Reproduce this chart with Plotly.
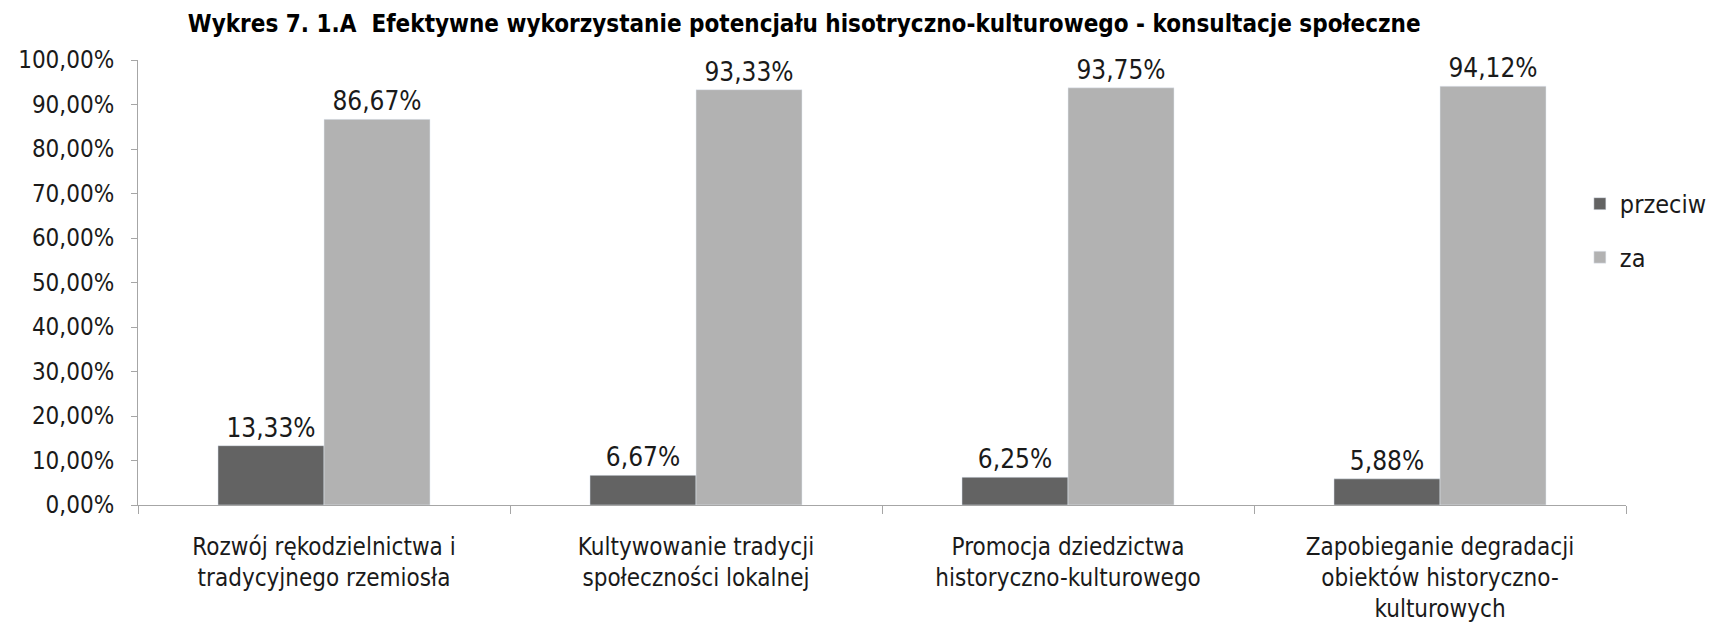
import plotly.graph_objects as go

# data
categories = [
    "Rozwój rękodzielnictwa i<br>tradycyjnego rzemiosła",
    "Kultywowanie tradycji<br>społeczności lokalnej",
    "Promocja dziedzictwa<br>historyczno-kulturowego",
    "Zapobieganie degradacji<br>obiektów historyczno-<br>kulturowych",
]
przeciw = [0.1333, 0.0667, 0.0625, 0.0588]
za = [0.8667, 0.9333, 0.9375, 0.9412]
y_ticks = [0, 0.1, 0.2, 0.3, 0.4, 0.5, 0.6, 0.7, 0.8, 0.9, 1.0]

FONT = "DejaVu Sans Condensed, Liberation Sans Narrow, sans-serif"

fig = go.Figure()
fig.add_trace(go.Bar(
    x=categories, y=przeciw, name="przeciw",
    marker_color="#636363", legendgroup="a",
    texttemplate="%{y:.2%}", textposition="outside",
    textfont=dict(size=26, color="#1a1a1a"),
    cliponaxis=False,
))
fig.add_trace(go.Bar(
    x=categories, y=za, name="za",
    marker_color="#b2b2b2", legendgroup="b",
    texttemplate="%{y:.2%}", textposition="outside",
    textfont=dict(size=26, color="#1a1a1a"),
    cliponaxis=False,
))

fig.update_layout(
    width=1716, height=630,
    separators=", ",
    barmode="group",
    bargap=0.43,
    bargroupgap=0,
    plot_bgcolor="white",
    paper_bgcolor="white",
    font=dict(family=FONT, size=24, color="#1a1a1a"),
    title=dict(
        text="<b>Wykres 7. 1.A\u00a0 Efektywne wykorzystanie potencjału hisotryczno-kulturowego - konsultacje społeczne</b>",
        x=0.464, xanchor="center", y=0.975, yanchor="middle",
        font=dict(size=24, family=FONT, color="#000000"),
    ),
    margin=dict(l=130, r=96, t=52, b=133),
    showlegend=True,
    legend=dict(
        x=0.969, xanchor="left", y=0.617, yanchor="middle",
        bgcolor="rgba(255,255,255,0)",
        font=dict(size=25),
        traceorder="grouped",
        tracegroupgap=18,
        itemwidth=30,
    ),
)

fig.update_yaxes(
    range=[0, 1.0],
    tickvals=y_ticks,
    tickformat=".2%",
    showgrid=False,
    showline=True, linecolor="#a6a6a6", linewidth=1,
    ticks="outside", ticklen=6, tickcolor="#a6a6a6",
    ticklabelstandoff=12,
    zeroline=False,
    automargin=False,
)
fig.update_xaxes(
    showgrid=False,
    showline=True, linecolor="#a6a6a6", linewidth=1,
    ticks="outside", ticklen=8, tickcolor="#a6a6a6",
    tickson="boundaries",
    ticklabelstandoff=20,
    automargin=False,
)

fig.write_html("out.html")
